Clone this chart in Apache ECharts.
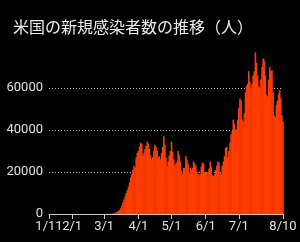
<!DOCTYPE html>
<html>
<head>
<meta charset="utf-8">
<script src="https://cdn.jsdelivr.net/npm/echarts@6/dist/echarts.min.js"></script>
<style>
html,body{margin:0;padding:0;background:#000;}
#chart{width:300px;height:242px;}
</style>
</head>
<body>
<div id="chart"></div>
<script>
const titleText = '米国の新規感染者数の推移（人）';
// months covered, first day shown, number of days shown
const monthNums   = [1, 2, 3, 4, 5, 6, 7, 8];
const monthStarts = [11, 1, 1, 1, 1, 1, 1, 1];
const monthDays   = [21, 29, 31, 30, 31, 30, 31, 10];
const tickLabels = ['1/11', '2/1', '3/1', '4/1', '5/1', '6/1', '7/1', '8/10'];

// daily new cases
const jan = [0,0,0,0,0,0,0,0,0,0,1,0,0,1,1,0,0,0,0,1,1];
const feb = [1,1,0,0,1,0,0,0,0,1,0,1,0,0,0,0,0,0,0,0,1,0,0,0,1,2,0,3,5];
const mar = [10,20,25,30,50,60,100,120,160,250,500,700,1000,1500,2000,2800,4000,5500,7000,8500,
             10000,11500,13000,15000,17500,19000,21000,23000,22000,27000,29000];
const apr = [30000,32000,34000,33500,28000,29000,31000,32500,34500,33500,31000,28000,26000,27000,30000,
             33000,32000,30000,27000,27500,26000,29000,32000,37000,33000,27000,23000,25000,28000,30000];
const may = [34500,29500,26000,23000,24000,25000,30000,28000,25000,20500,19000,22000,22000,27500,26000,
             24000,19500,22000,21000,22000,25000,24000,23000,20000,19000,18500,19000,22500,24500,24000,20000];
const jun = [19500,20000,20000,21500,25000,22500,18500,18000,19000,21000,23000,25000,24500,19500,19000,
             23000,25000,27500,31500,32000,27000,30000,34000,38000,39500,45000,43000,40000,40500,45000];
const jul = [50500,55000,54000,45000,44000,48000,58000,61000,62000,68000,63000,60000,62000,66000,68000,
             77000,72000,66000,61000,60000,64000,70000,74000,73000,66000,57000,56000,64000,70000,68000,68500];
const aug = [58000,47000,46000,52000,54000,57000,59000,55000,47000,44000];

const values = [].concat(jan, feb, mar, apr, may, jun, jul, aug);
const categories = [];
monthNums.forEach((m, i) => {
  for (let d = monthStarts[i]; d < monthStarts[i] + monthDays[i]; d++) categories.push(m + '/' + d);
});

const chart = echarts.init(document.getElementById('chart'), null, {renderer: 'canvas'});
const showTick = (idx, val) => tickLabels.indexOf(val) >= 0;
chart.setOption({
  backgroundColor: '#000',
  animation: false,
  title: {
    text: titleText,
    left: 8, top: 14,
    textStyle: {color: '#eeeeee', fontSize: 16, fontWeight: 'normal', fontFamily: '"Noto Sans CJK JP", sans-serif'}
  },
  grid: {left: 49, right: 17, top: 46, bottom: 28, containLabel: false},
  xAxis: {
    type: 'category',
    data: categories,
    boundaryGap: false,
    axisLine: {show: true, lineStyle: {color: '#cccccc', width: 1}},
    axisTick: {show: true, interval: showTick, length: 5, lineStyle: {color: '#cccccc'}},
    axisLabel: {interval: 0, color: '#e0e0e0', fontSize: 13, fontFamily: 'Roboto', margin: 6,
                hideOverlap: false,
                formatter: v => (tickLabels.indexOf(v) >= 0 ? v : '')},
    splitLine: {show: false}
  },
  yAxis: {
    type: 'value',
    min: 0, max: 80000, interval: 20000,
    axisLine: {show: false},
    axisTick: {show: false},
    axisLabel: {color: '#e0e0e0', fontSize: 13, fontFamily: 'Roboto', margin: 6,
                formatter: v => (v >= 80000 ? '' : String(v))},
    splitLine: {show: true, showMinLine: false, showMaxLine: false,
                lineStyle: {color: '#bbbbbb', type: [1, 2], width: 1}}
  },
  series: [{
    type: 'bar',
    data: values,
    barWidth: 1.6,
    itemStyle: {color: '#ff3c00'}
  }]
});
</script>
</body>
</html>
